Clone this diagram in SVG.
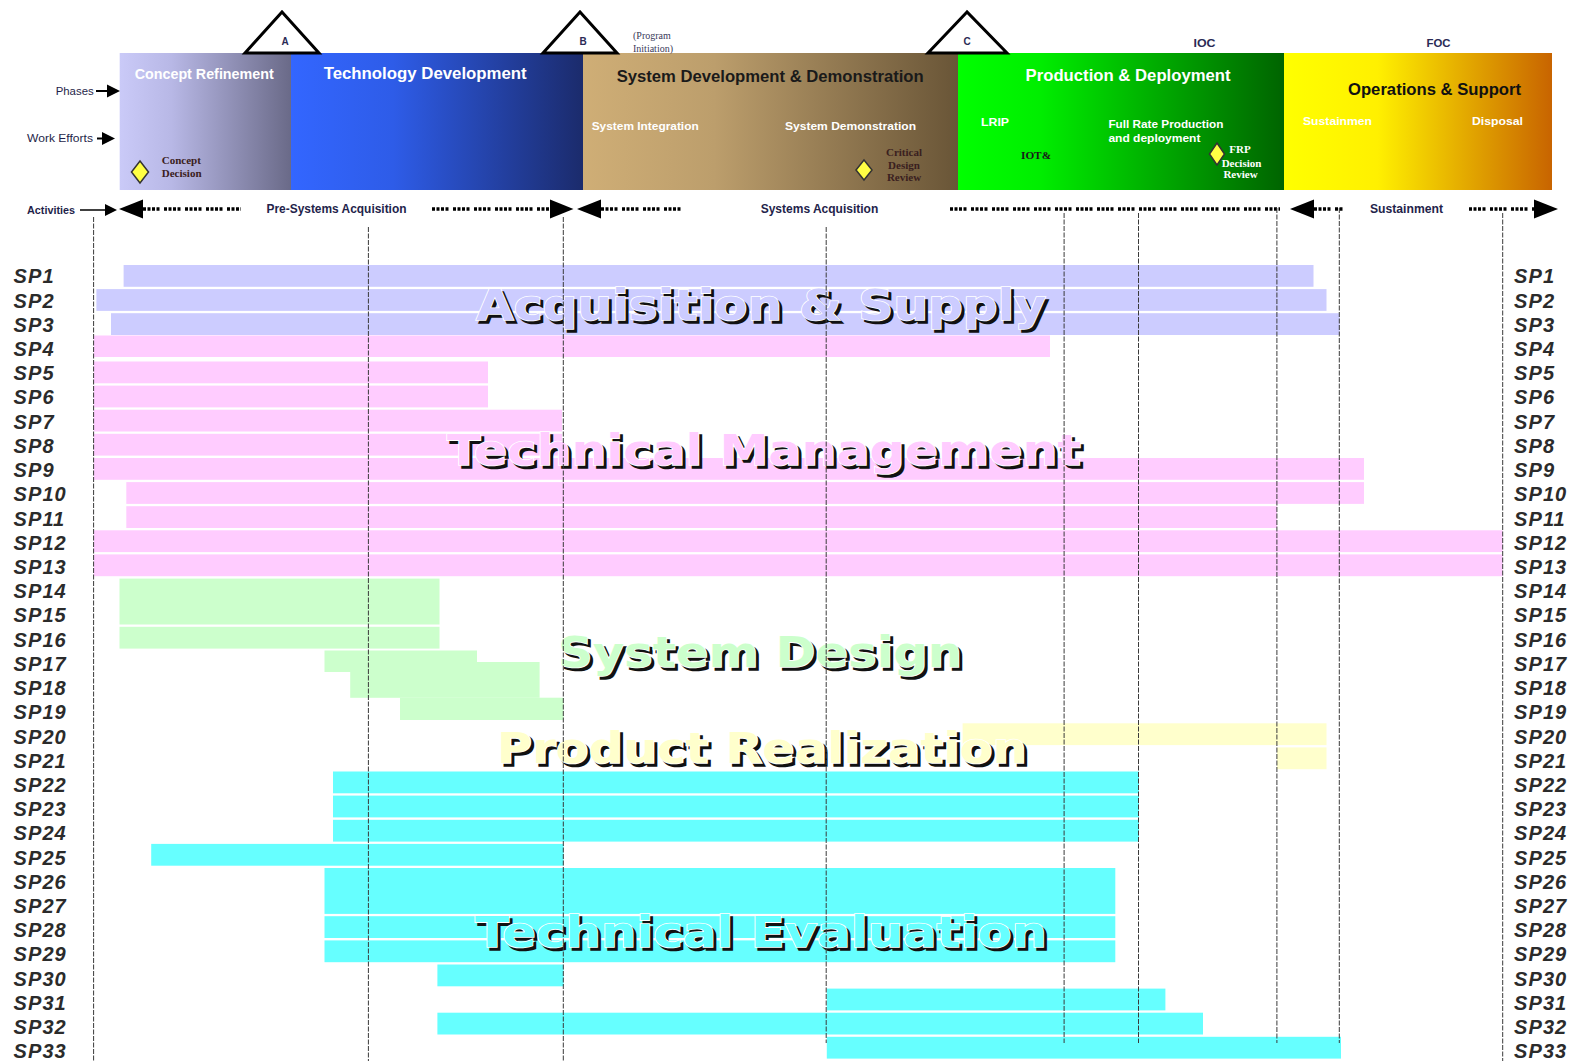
<svg xmlns="http://www.w3.org/2000/svg" width="1574" height="1061" viewBox="0 0 1574 1061">
<defs>
<linearGradient id="gCR" x1="0" y1="0" x2="1" y2="0"><stop offset="0" stop-color="#CACAF8"/><stop offset="0.3" stop-color="#B8B8E6"/><stop offset="1" stop-color="#6A6A88"/></linearGradient>
<linearGradient id="gTD" x1="0" y1="0" x2="1" y2="0"><stop offset="0" stop-color="#3366FF"/><stop offset="0.35" stop-color="#2E5CE8"/><stop offset="1" stop-color="#1B2B6C"/></linearGradient>
<linearGradient id="gSDD" x1="0" y1="0" x2="1" y2="0"><stop offset="0" stop-color="#CFAE76"/><stop offset="0.35" stop-color="#BC9E6C"/><stop offset="1" stop-color="#695537"/></linearGradient>
<linearGradient id="gPD" x1="0" y1="0" x2="1" y2="0"><stop offset="0" stop-color="#00FF00"/><stop offset="0.25" stop-color="#00EE00"/><stop offset="1" stop-color="#006400"/></linearGradient>
<linearGradient id="gOS" x1="0" y1="0" x2="1" y2="0"><stop offset="0" stop-color="#FFFF00"/><stop offset="0.35" stop-color="#FFF000"/><stop offset="1" stop-color="#C86400"/></linearGradient>
<style>
.sp{font-family:"Liberation Sans",Arial,sans-serif;font-weight:bold;font-style:italic;font-size:20px;letter-spacing:1.1px;fill:#2b2b2b}
.ttl{font-family:"DejaVu Sans","Liberation Sans",sans-serif;font-weight:bold;font-size:43px}
.sh{fill:#111;stroke:#111;stroke-width:1.6}
.mt{stroke:#fff;stroke-width:1.6;paint-order:stroke}
.ph{font-family:"Liberation Sans",Arial,sans-serif;font-weight:bold;font-size:16.5px}
.we{font-family:"Liberation Sans",Arial,sans-serif;font-weight:bold;font-size:11.5px;fill:#fff}
.srf{font-family:"Liberation Serif","Times New Roman",serif;font-weight:bold;font-size:11px}
.sm{font-family:"Liberation Sans",Arial,sans-serif;font-size:11.5px;fill:#1f1f4a}
.act{font-family:"Liberation Sans",Arial,sans-serif;font-weight:bold;font-size:12px;fill:#23234a}
.ms{font-family:"Liberation Sans",Arial,sans-serif;font-weight:bold;font-size:10px;fill:#2a2a55}
.tri{fill:#fff;stroke:#000;stroke-width:3;stroke-linejoin:miter}
.dia{fill:#FFFF44;stroke:#333;stroke-width:1.5}
.as{fill:#CCCCFF}.tm{fill:#FFCCFF}.sd{fill:#CCFFCC}.pr{fill:#FFFFCC}.te{fill:#66FFFF}
.dash{stroke:#000;stroke-width:3.5;stroke-dasharray:3 1.5 3 1.5 3 1.5 3 4.5;fill:none}
.vl{stroke:#3a3a3a;stroke-width:1;stroke-dasharray:5 1.5;fill:none}
.ah{fill:#000}
</style>
</defs>
<rect width="1574" height="1061" fill="#fff"/>

<!-- Header phases -->
<g id="phase-concept-refinement">
<rect x="119.7" y="53" width="171.3" height="137" fill="url(#gCR)"/>
<text x="134.7" y="79.3" class="ph" style="font-size:14px" fill="#fff" textLength="139" lengthAdjust="spacingAndGlyphs">Concept Refinement</text>
</g>
<g id="phase-technology-development">
<rect x="291" y="53" width="292" height="137" fill="url(#gTD)"/>
<text x="323.7" y="79.3" class="ph" fill="#fff" textLength="203" lengthAdjust="spacingAndGlyphs">Technology Development</text>
</g>
<g id="phase-sdd">
<rect x="583" y="53" width="375" height="137" fill="url(#gSDD)"/>
<text x="616.7" y="81.7" class="ph" fill="#1a1a1a" textLength="307" lengthAdjust="spacingAndGlyphs">System Development &amp; Demonstration</text>
<text x="591.7" y="130" class="we" textLength="107" lengthAdjust="spacingAndGlyphs">System Integration</text>
<text x="785" y="130" class="we" textLength="131" lengthAdjust="spacingAndGlyphs">System Demonstration</text>
</g>
<g id="phase-production-deployment">
<rect x="958" y="53" width="326" height="137" fill="url(#gPD)"/>
<text x="1025.6" y="80.7" class="ph" fill="#fff" textLength="205" lengthAdjust="spacingAndGlyphs">Production &amp; Deployment</text>
<text x="981" y="126" class="we" textLength="28" lengthAdjust="spacingAndGlyphs">LRIP</text>
<text x="1108.4" y="128" class="we" textLength="115" lengthAdjust="spacingAndGlyphs">Full Rate Production</text>
<text x="1108.4" y="141.6" class="we" textLength="92" lengthAdjust="spacingAndGlyphs">and deployment</text>
<text x="1021" y="159" class="srf" fill="#1a1a1a" textLength="30" lengthAdjust="spacingAndGlyphs">IOT&amp;</text>
</g>
<g id="phase-operations-support">
<rect x="1284" y="53" width="268" height="137" fill="url(#gOS)"/>
<text x="1348" y="95" class="ph" fill="#111" textLength="173" lengthAdjust="spacingAndGlyphs">Operations &amp; Support</text>
<text x="1303" y="125" class="we" textLength="69" lengthAdjust="spacingAndGlyphs">Sustainmen</text>
<text x="1472" y="125" class="we" textLength="51" lengthAdjust="spacingAndGlyphs">Disposal</text>
</g>

<!-- Milestones -->
<g id="milestone-a">
<polygon class="tri" points="282,12 245,53 319,53"/>
<text x="285" y="45" class="ms" text-anchor="middle">A</text>
</g>
<g id="milestone-b">
<polygon class="tri" points="580,12 543,53 617,53"/>
<text x="583" y="45" class="ms" text-anchor="middle">B</text>
<text x="633" y="38.5" class="srf" style="font-weight:normal;font-size:10px" fill="#3a3a5a">(Program</text>
<text x="633" y="51.5" class="srf" style="font-weight:normal;font-size:10px" fill="#3a3a5a">Initiation)</text>
</g>
<g id="milestone-c">
<polygon class="tri" points="967,12 928,53 1007,53"/>
<text x="967" y="45" class="ms" text-anchor="middle">C</text>
</g>
<g id="milestone-ioc"><text x="1204.5" y="46.7" class="ms" text-anchor="middle" textLength="22" lengthAdjust="spacingAndGlyphs">IOC</text></g>
<g id="milestone-foc"><text x="1438.5" y="46.7" class="ms" text-anchor="middle" textLength="24" lengthAdjust="spacingAndGlyphs">FOC</text></g>

<g id="decision-concept">
<polygon class="dia" points="140,161 148.5,172 140,183 131.5,172"/>
<text x="161.8" y="164" class="srf" fill="#3a2020">Concept</text>
<text x="161.8" y="177" class="srf" fill="#3a2020">Decision</text>
</g>
<g id="decision-cdr">
<polygon class="dia" points="864,160 872,170 864,180 856,170"/>
<text x="904" y="156" class="srf" fill="#3a2020" text-anchor="middle">Critical</text>
<text x="904" y="168.5" class="srf" fill="#3a2020" text-anchor="middle">Design</text>
<text x="904" y="181" class="srf" fill="#3a2020" text-anchor="middle">Review</text>
</g>
<g id="decision-frp">
<polygon class="dia" points="1217,143 1224.5,154 1217,165 1209.5,154"/>
<text x="1240" y="153" class="srf" fill="#fff" text-anchor="middle">FRP</text>
<text x="1241.5" y="167" class="srf" fill="#fff" text-anchor="middle">Decision</text>
<text x="1240.5" y="178" class="srf" fill="#fff" text-anchor="middle">Review</text>
</g>

<!-- Row headers -->
<g id="row-headers">
<text x="55.7" y="94.5" class="sm" textLength="38" lengthAdjust="spacingAndGlyphs">Phases</text>
<text x="27" y="142" class="sm" textLength="66" lengthAdjust="spacingAndGlyphs">Work Efforts</text>
<text x="27" y="213.5" class="sm" style="font-weight:bold;font-size:11px" textLength="48" lengthAdjust="spacingAndGlyphs">Activities</text>
</g>

<!-- Activities row -->
<g id="activities">
<text x="266.5" y="212.5" class="act" textLength="140" lengthAdjust="spacingAndGlyphs">Pre-Systems Acquisition</text>
<text x="760.7" y="212.5" class="act" textLength="117.6" lengthAdjust="spacingAndGlyphs">Systems Acquisition</text>
<text x="1370" y="212.5" class="act" textLength="73" lengthAdjust="spacingAndGlyphs">Sustainment</text>
</g>

<!-- Bars -->
<g id="acquisition-supply">
<rect class="as" x="123.6" y="265" width="1189.9" height="21.8"/>
<rect class="as" x="96.4" y="289.1" width="1230.1" height="21.8"/>
<rect class="as" x="111" y="313.2" width="1228.7" height="21.8"/>
</g>
<g id="technical-management">
<rect class="tm" x="93.8" y="335.5" width="956.2" height="21.5"/>
<rect class="tm" x="93.8" y="361.5" width="394.2" height="21.8"/>
<rect class="tm" x="93.8" y="385.6" width="394.2" height="21.8"/>
<rect class="tm" x="93.8" y="409.7" width="468.2" height="21.8"/>
<rect class="tm" x="93.8" y="433.8" width="468.2" height="21.8"/>
<rect class="tm" x="93.8" y="458" width="1270.2" height="21.8"/>
<rect class="tm" x="126.3" y="482.1" width="1237.7" height="21.8"/>
<rect class="tm" x="126.3" y="506.2" width="1150.7" height="21.8"/>
<rect class="tm" x="93.8" y="530.3" width="1408.8" height="21.8"/>
<rect class="tm" x="93.8" y="554.4" width="1408.8" height="21.8"/>
</g>
<g id="system-design">
<rect class="sd" x="119.5" y="578.6" width="320" height="45.9"/>
<rect class="sd" x="119.5" y="626.8" width="320" height="21.8"/>
<rect class="sd" x="324.5" y="650.5" width="152.5" height="21.5"/>
<rect class="sd" x="350.2" y="662" width="189.4" height="35.8"/>
<rect class="sd" x="400" y="697.7" width="163.6" height="22.3"/>
</g>
<g id="product-realization">
<rect class="pr" x="962.6" y="723.3" width="363.9" height="21.8"/>
<rect class="pr" x="1277" y="747.4" width="49.5" height="21.8"/>
</g>
<g id="technical-evaluation">
<rect class="te" x="333" y="771.5" width="806" height="21.8"/>
<rect class="te" x="333" y="795.6" width="806" height="21.8"/>
<rect class="te" x="333" y="819.8" width="806" height="21.8"/>
<rect class="te" x="151.2" y="843.9" width="412.4" height="21.8"/>
<rect class="te" x="324.5" y="868" width="790.8" height="45.9"/>
<rect class="te" x="324.5" y="916.2" width="790.8" height="21.8"/>
<rect class="te" x="324.5" y="940.4" width="790.8" height="21.8"/>
<rect class="te" x="437.4" y="964.5" width="126.2" height="21.8"/>
<rect class="te" x="826.8" y="988.6" width="338.6" height="21.8"/>
<rect class="te" x="437.4" y="1012.7" width="765.6" height="21.8"/>
<rect class="te" x="826.8" y="1036.8" width="514.2" height="21.8"/>
</g>

<!-- Big category titles -->
<g id="title-acquisition">
<text x="479" y="323" class="ttl sh" textLength="570" lengthAdjust="spacingAndGlyphs">Acquisition &amp; Supply</text>
<text x="476" y="320" class="ttl mt" fill="#CCCCFF" textLength="570" lengthAdjust="spacingAndGlyphs">Acquisition &amp; Supply</text>
</g>
<g id="title-technical-management">
<text x="450" y="468" class="ttl sh" textLength="634" lengthAdjust="spacingAndGlyphs">Technical Management</text>
<text x="447" y="465" class="ttl mt" fill="#FFCCFF" textLength="634" lengthAdjust="spacingAndGlyphs">Technical Management</text>
</g>
<g id="title-system-design">
<text x="561" y="670" class="ttl sh" textLength="404" lengthAdjust="spacingAndGlyphs">System Design</text>
<text x="558" y="667" class="ttl mt" fill="#CCFFCC" textLength="404" lengthAdjust="spacingAndGlyphs">System Design</text>
</g>
<g id="title-product-realization">
<text x="500" y="766" class="ttl sh" textLength="530" lengthAdjust="spacingAndGlyphs">Product Realization</text>
<text x="497" y="763" class="ttl mt" fill="#FFFFCC" textLength="530" lengthAdjust="spacingAndGlyphs">Product Realization</text>
</g>
<g id="title-technical-evaluation">
<text x="478" y="950" class="ttl sh" textLength="572" lengthAdjust="spacingAndGlyphs">Technical Evaluation</text>
<text x="475" y="947" class="ttl mt" fill="#66FFFF" textLength="572" lengthAdjust="spacingAndGlyphs">Technical Evaluation</text>
</g>

<!-- SP labels -->
<g id="sp-labels-left">
<text class="sp" x="13.5" y="283.3">SP1</text>
<text class="sp" x="13.5" y="307.5">SP2</text>
<text class="sp" x="13.5" y="331.7">SP3</text>
<text class="sp" x="13.5" y="356">SP4</text>
<text class="sp" x="13.5" y="380.2">SP5</text>
<text class="sp" x="13.5" y="404.4">SP6</text>
<text class="sp" x="13.5" y="428.6">SP7</text>
<text class="sp" x="13.5" y="452.8">SP8</text>
<text class="sp" x="13.5" y="477.1">SP9</text>
<text class="sp" x="13.5" y="501.3">SP10</text>
<text class="sp" x="13.5" y="525.5">SP11</text>
<text class="sp" x="13.5" y="549.7">SP12</text>
<text class="sp" x="13.5" y="573.9">SP13</text>
<text class="sp" x="13.5" y="598.2">SP14</text>
<text class="sp" x="13.5" y="622.4">SP15</text>
<text class="sp" x="13.5" y="646.6">SP16</text>
<text class="sp" x="13.5" y="670.8">SP17</text>
<text class="sp" x="13.5" y="695">SP18</text>
<text class="sp" x="13.5" y="719.2">SP19</text>
<text class="sp" x="13.5" y="743.5">SP20</text>
<text class="sp" x="13.5" y="767.7">SP21</text>
<text class="sp" x="13.5" y="791.9">SP22</text>
<text class="sp" x="13.5" y="816.1">SP23</text>
<text class="sp" x="13.5" y="840.3">SP24</text>
<text class="sp" x="13.5" y="864.6">SP25</text>
<text class="sp" x="13.5" y="888.8">SP26</text>
<text class="sp" x="13.5" y="913">SP27</text>
<text class="sp" x="13.5" y="937.2">SP28</text>
<text class="sp" x="13.5" y="961.4">SP29</text>
<text class="sp" x="13.5" y="985.7">SP30</text>
<text class="sp" x="13.5" y="1009.9">SP31</text>
<text class="sp" x="13.5" y="1034.1">SP32</text>
<text class="sp" x="13.5" y="1058">SP33</text>
</g>
<g id="sp-labels-right">
<text class="sp" x="1514" y="283.3">SP1</text>
<text class="sp" x="1514" y="307.5">SP2</text>
<text class="sp" x="1514" y="331.7">SP3</text>
<text class="sp" x="1514" y="356">SP4</text>
<text class="sp" x="1514" y="380.2">SP5</text>
<text class="sp" x="1514" y="404.4">SP6</text>
<text class="sp" x="1514" y="428.6">SP7</text>
<text class="sp" x="1514" y="452.8">SP8</text>
<text class="sp" x="1514" y="477.1">SP9</text>
<text class="sp" x="1514" y="501.3">SP10</text>
<text class="sp" x="1514" y="525.5">SP11</text>
<text class="sp" x="1514" y="549.7">SP12</text>
<text class="sp" x="1514" y="573.9">SP13</text>
<text class="sp" x="1514" y="598.2">SP14</text>
<text class="sp" x="1514" y="622.4">SP15</text>
<text class="sp" x="1514" y="646.6">SP16</text>
<text class="sp" x="1514" y="670.8">SP17</text>
<text class="sp" x="1514" y="695">SP18</text>
<text class="sp" x="1514" y="719.2">SP19</text>
<text class="sp" x="1514" y="743.5">SP20</text>
<text class="sp" x="1514" y="767.7">SP21</text>
<text class="sp" x="1514" y="791.9">SP22</text>
<text class="sp" x="1514" y="816.1">SP23</text>
<text class="sp" x="1514" y="840.3">SP24</text>
<text class="sp" x="1514" y="864.6">SP25</text>
<text class="sp" x="1514" y="888.8">SP26</text>
<text class="sp" x="1514" y="913">SP27</text>
<text class="sp" x="1514" y="937.2">SP28</text>
<text class="sp" x="1514" y="961.4">SP29</text>
<text class="sp" x="1514" y="985.7">SP30</text>
<text class="sp" x="1514" y="1009.9">SP31</text>
<text class="sp" x="1514" y="1034.1">SP32</text>
<text class="sp" x="1514" y="1058">SP33</text>
</g>

<!-- Connectors: arrows, activity spans and grid lines -->
<g id="connectors">
<line x1="96" y1="91" x2="108" y2="91" stroke="#000" stroke-width="2"/>
<polygon class="ah" points="107,84.5 120,91 107,97.5"/>
<line x1="97" y1="138.5" x2="103" y2="138.5" stroke="#000" stroke-width="2"/>
<polygon class="ah" points="102,132 115,138.5 102,145"/>
<line x1="80" y1="210" x2="106" y2="210" stroke="#000" stroke-width="1.5"/>
<polygon class="ah" points="105,204 117,210 105,216"/>
<polygon class="ah" points="119,209 143,199.5 143,218.5"/>
<line class="dash" x1="143" y1="209" x2="241" y2="209"/>
<line class="dash" x1="432" y1="209" x2="551" y2="209"/>
<polygon class="ah" points="573.5,209 550,199.5 550,218.5"/>
<polygon class="ah" points="577,209 601,199.5 601,218.5"/>
<line class="dash" x1="601" y1="209" x2="685" y2="209"/>
<line class="dash" x1="950" y1="209" x2="1280" y2="209"/>
<polygon class="ah" points="1290,209 1314,199.5 1314,218.5"/>
<line class="dash" x1="1314" y1="209" x2="1344" y2="209"/>
<line class="dash" x1="1469" y1="209" x2="1535" y2="209"/>
<polygon class="ah" points="1558,209 1534,199.5 1534,218.5"/>
<line class="vl" x1="93.6" y1="217" x2="93.6" y2="1061"/>
<line class="vl" x1="368.4" y1="227" x2="368.4" y2="1061"/>
<line class="vl" x1="563.3" y1="217" x2="563.3" y2="1061"/>
<line class="vl" x1="826.2" y1="227" x2="826.2" y2="1043"/>
<line class="vl" x1="1064.1" y1="213" x2="1064.1" y2="1043"/>
<line class="vl" x1="1138.5" y1="213" x2="1138.5" y2="1043"/>
<line class="vl" x1="1276.9" y1="208" x2="1276.9" y2="1043"/>
<line class="vl" x1="1339.3" y1="208" x2="1339.3" y2="1043"/>
<line class="vl" x1="1502.7" y1="213" x2="1502.7" y2="1061"/>
</g>
</svg>
